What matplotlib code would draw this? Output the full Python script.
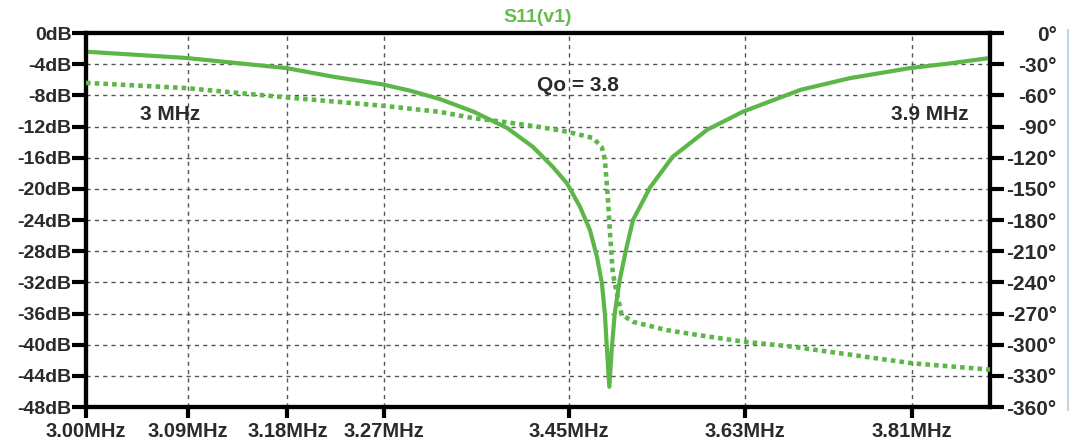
import matplotlib
matplotlib.use('Agg')
import matplotlib.pyplot as plt
import numpy as np

plt.rcParams['font.family'] = ['Liberation Sans', 'DejaVu Sans']

# Magnitud S11 (frecuencia en MHz, dB)
frec_mag = [3.000, 3.088, 3.179, 3.222, 3.269, 3.295, 3.324, 3.356, 3.389,
            3.414, 3.434, 3.448, 3.461, 3.471, 3.478, 3.483, 3.486, 3.488,
            3.4905, 3.493, 3.496, 3.501, 3.508, 3.5145, 3.532, 3.555, 3.591,
            3.628, 3.689, 3.742, 3.808, 3.852, 3.897]
mag_db = [-2.4, -3.2, -4.5, -5.6, -6.6, -7.4, -8.5, -10.1, -12.2,
          -14.6, -17.2, -19.3, -22.3, -25.3, -28.7, -32.1, -36.0, -40.3,
          -45.4, -40.5, -36.0, -31.7, -27.5, -24.0, -19.8, -15.9, -12.4,
          -10.1, -7.3, -5.8, -4.5, -3.9, -3.2]

# Fase S11 (grados)
frec_fase = [3.000, 3.088, 3.179, 3.269, 3.324, 3.356, 3.389, 3.421, 3.448,
             3.474, 3.483, 3.486, 3.489, 3.491, 3.494, 3.498, 3.503, 3.5145,
             3.549, 3.583, 3.628, 3.681, 3.811, 3.897]
fase_deg = [-48, -53, -62, -70, -76, -82, -86, -90.5, -95,
            -101, -110, -122, -158, -190, -231, -250, -271, -278,
            -286, -291, -297, -302, -318, -324]

# Ejes
db_ticks = np.arange(0, -49, -4)
deg_ticks = np.arange(0, -361, -30)
frec_ticks = [3.00, 3.09, 3.18, 3.27, 3.45, 3.63, 3.81]
frec_labels = ['3.00MHz', '3.09MHz', '3.18MHz', '3.27MHz', '3.45MHz', '3.63MHz', '3.81MHz']

verde = '#5cb648'
gris = '#555555'
texto = '#2a2a2a'

fig = plt.figure(figsize=(10.76, 4.4), dpi=100)
ax = fig.add_axes([86/1076, 1-407/440, (990-86)/1076, (407-33)/440])
ax2 = ax.twinx()

ax.set_xscale('log')
ax.set_xlim(3.0, 3.897)
ax.set_ylim(-48, 0)
ax2.set_ylim(-360, 0)

ax.set_xticks(frec_ticks)
ax.set_xticklabels(frec_labels)
ax.xaxis.set_minor_locator(matplotlib.ticker.NullLocator())
ax.set_yticks(db_ticks)
ax.set_yticklabels(['%ddB' % v for v in db_ticks])
ax2.set_yticks(deg_ticks)
ax2.set_yticklabels(['%d°' % v for v in deg_ticks])

# Grilla punteada
for f in frec_ticks[1:]:
    ax.axvline(f, color=gris, lw=1, ls=(0, (3, 3)), zorder=1)
for d in db_ticks[1:-1]:
    ax.axhline(d, color=gris, lw=1, ls=(0, (3, 3)), zorder=1)

ax.plot(frec_mag, mag_db, color=verde, lw=3, zorder=3)
ax2.plot(frec_fase, fase_deg, color=verde, lw=3.3, ls=(0, (1, 0.9)),
         dash_capstyle='butt', zorder=3)

for a in (ax, ax2):
    for s in a.spines.values():
        s.set_linewidth(3)
        s.set_color('black')

ax.tick_params(axis='y', length=10, width=3, pad=0.5, labelsize=14, labelcolor=texto)
ax.tick_params(axis='x', length=8, width=3, pad=3, labelsize=14.5, labelcolor=texto)
ax2.tick_params(axis='y', length=10, width=3, pad=38, labelsize=15, labelcolor=texto)
for lab in ax.get_xticklabels() + ax.get_yticklabels() + ax2.get_yticklabels():
    lab.set_fontweight('bold')
for lab in ax2.get_yticklabels():
    lab.set_horizontalalignment('right')

fig.text(538/1076, 1-17/440, 'S11(v1)', color='#66bb4e', fontsize=14,
         fontweight='bold', ha='center', va='center')
ax.text(3.459, -6.7, 'Qo = 3.8', fontsize=15, fontweight='bold',
        color=texto, ha='center', va='center')
ax.text(3.074, -10.5, '3 MHz', fontsize=15, fontweight='bold',
        color=texto, ha='center', va='center')
ax.text(3.83, -10.5, '3.9 MHz', fontsize=15, fontweight='bold',
        color=texto, ha='center', va='center')

fig.add_artist(plt.Line2D([1068/1076, 1068/1076], [1-30/440, 1-410/440],
                          color='#c8d4e0', lw=1.5))

fig.savefig('out.png', dpi=100)
